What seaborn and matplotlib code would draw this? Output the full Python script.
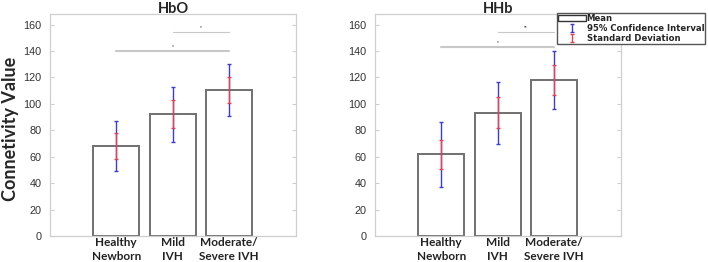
import numpy as np
import pandas as pd
import seaborn as sns
import matplotlib.pyplot as plt
from matplotlib.patches import Patch

# Values
groups = ['Healthy\nNewborn', 'Mild\nIVH', 'Moderate/\nSevere IVH']

hbo_mean = [68.0, 92.3, 110.5]
hbo_sd = [9.9, 10.8, 9.9]
hbo_ci = [19.1, 20.8, 19.8]

hhb_mean = [61.7, 93.4, 118.0]
hhb_sd = [11.0, 11.8, 11.4]
hhb_ci = [24.5, 23.5, 22.1]

# significance brackets: (from group, to group, height, mark)
hbo_sig = [(0, 2, 140.3, '*'), (1, 2, 154.5, '*')]
hhb_sig = [(0, 2, 143.3, '*'), (1, 2, 154.5, '**')]

sns.set_style('white')
plt.rcParams['font.family'] = ['Liberation Sans', 'DejaVu Sans']

fig = plt.figure(figsize=(7.08, 2.62), dpi=100)
ax1 = fig.add_axes([50 / 708, 26 / 262, 246 / 708, 222 / 262])
ax2 = fig.add_axes([375 / 708, 26 / 262, 246 / 708, 222 / 262])

panels = [
    (ax1, 'HbO', hbo_mean, hbo_sd, hbo_ci, hbo_sig),
    (ax2, 'HHb', hhb_mean, hhb_sd, hhb_ci, hhb_sig),
]

for ax, title, mean, sd, ci, sig in panels:
    df = pd.DataFrame({'group': groups, 'mean': mean})
    sns.barplot(data=df, x='group', y='mean', ax=ax, color='white',
                edgecolor='#707070', linewidth=1.4, width=0.81, saturation=1)
    x = np.arange(len(groups))
    eb_ci = ax.errorbar(x, mean, yerr=ci, fmt='none', ecolor='#3b3bd9',
                        elinewidth=1.0, capsize=1.2, capthick=1.0, zorder=3)
    eb_sd = ax.errorbar(x, mean, yerr=sd, fmt='none', ecolor='#e8434a',
                        elinewidth=1.0, capsize=1.2, capthick=1.0, zorder=4)

    for a, b, h, mark in sig:
        lw = 1.5 if b - a == 2 else 0.8
        ax.plot([a, b], [h, h], color='#c8c8c8', lw=lw, zorder=2)
        ax.text((a + b) / 2, h + 1.0, mark, ha='center', va='bottom',
                fontsize=3.5, color='#333333')

    ax.set_xlim(-1.17, 3.18)
    ax.set_ylim(0, 168)
    ax.set_yticks(range(0, 161, 20))
    ax.set_xlabel('')
    ax.set_ylabel('')
    ax.set_xticks(x)
    ax.set_xticklabels(groups, family='Lato', fontweight='bold', fontsize=8.5,
                       color='#222222', linespacing=1.25)
    ax.tick_params(axis='x', length=0, pad=1.0)
    ax.tick_params(axis='y', direction='in', length=3, color='#cfcfcf',
                   labelsize=7.8, labelcolor='#333333', pad=6,
                   right=True, left=True)
    for s in ax.spines.values():
        s.set_color('#cfcfcf')
        s.set_linewidth(0.9)
    ax.set_title(title, family='Lato', fontweight='bold', fontsize=10.5, pad=0.5)

fig.text(0.015, 0.508, 'Connetivity Value', rotation=90, ha='center',
         va='center', family='Lato', fontweight='bold', fontsize=13)

handles = [Patch(facecolor='white', edgecolor='#333333', linewidth=1.0),
           eb_ci, eb_sd]
labels = ['Mean', '95% Confidence Interval', 'Standard Deviation']
fig.legend(handles, labels, loc='upper left', bbox_to_anchor=(557 / 708, 1 - 13 / 262),
           prop={'family': 'DejaVu Sans', 'weight': 'bold', 'size': 6.1},
           frameon=True, fancybox=False, edgecolor='#555555', framealpha=1,
           borderpad=0.1, labelspacing=0.12, handlelength=3.3,
           handletextpad=0.1, borderaxespad=0)

fig.savefig('out.png', dpi=100)
